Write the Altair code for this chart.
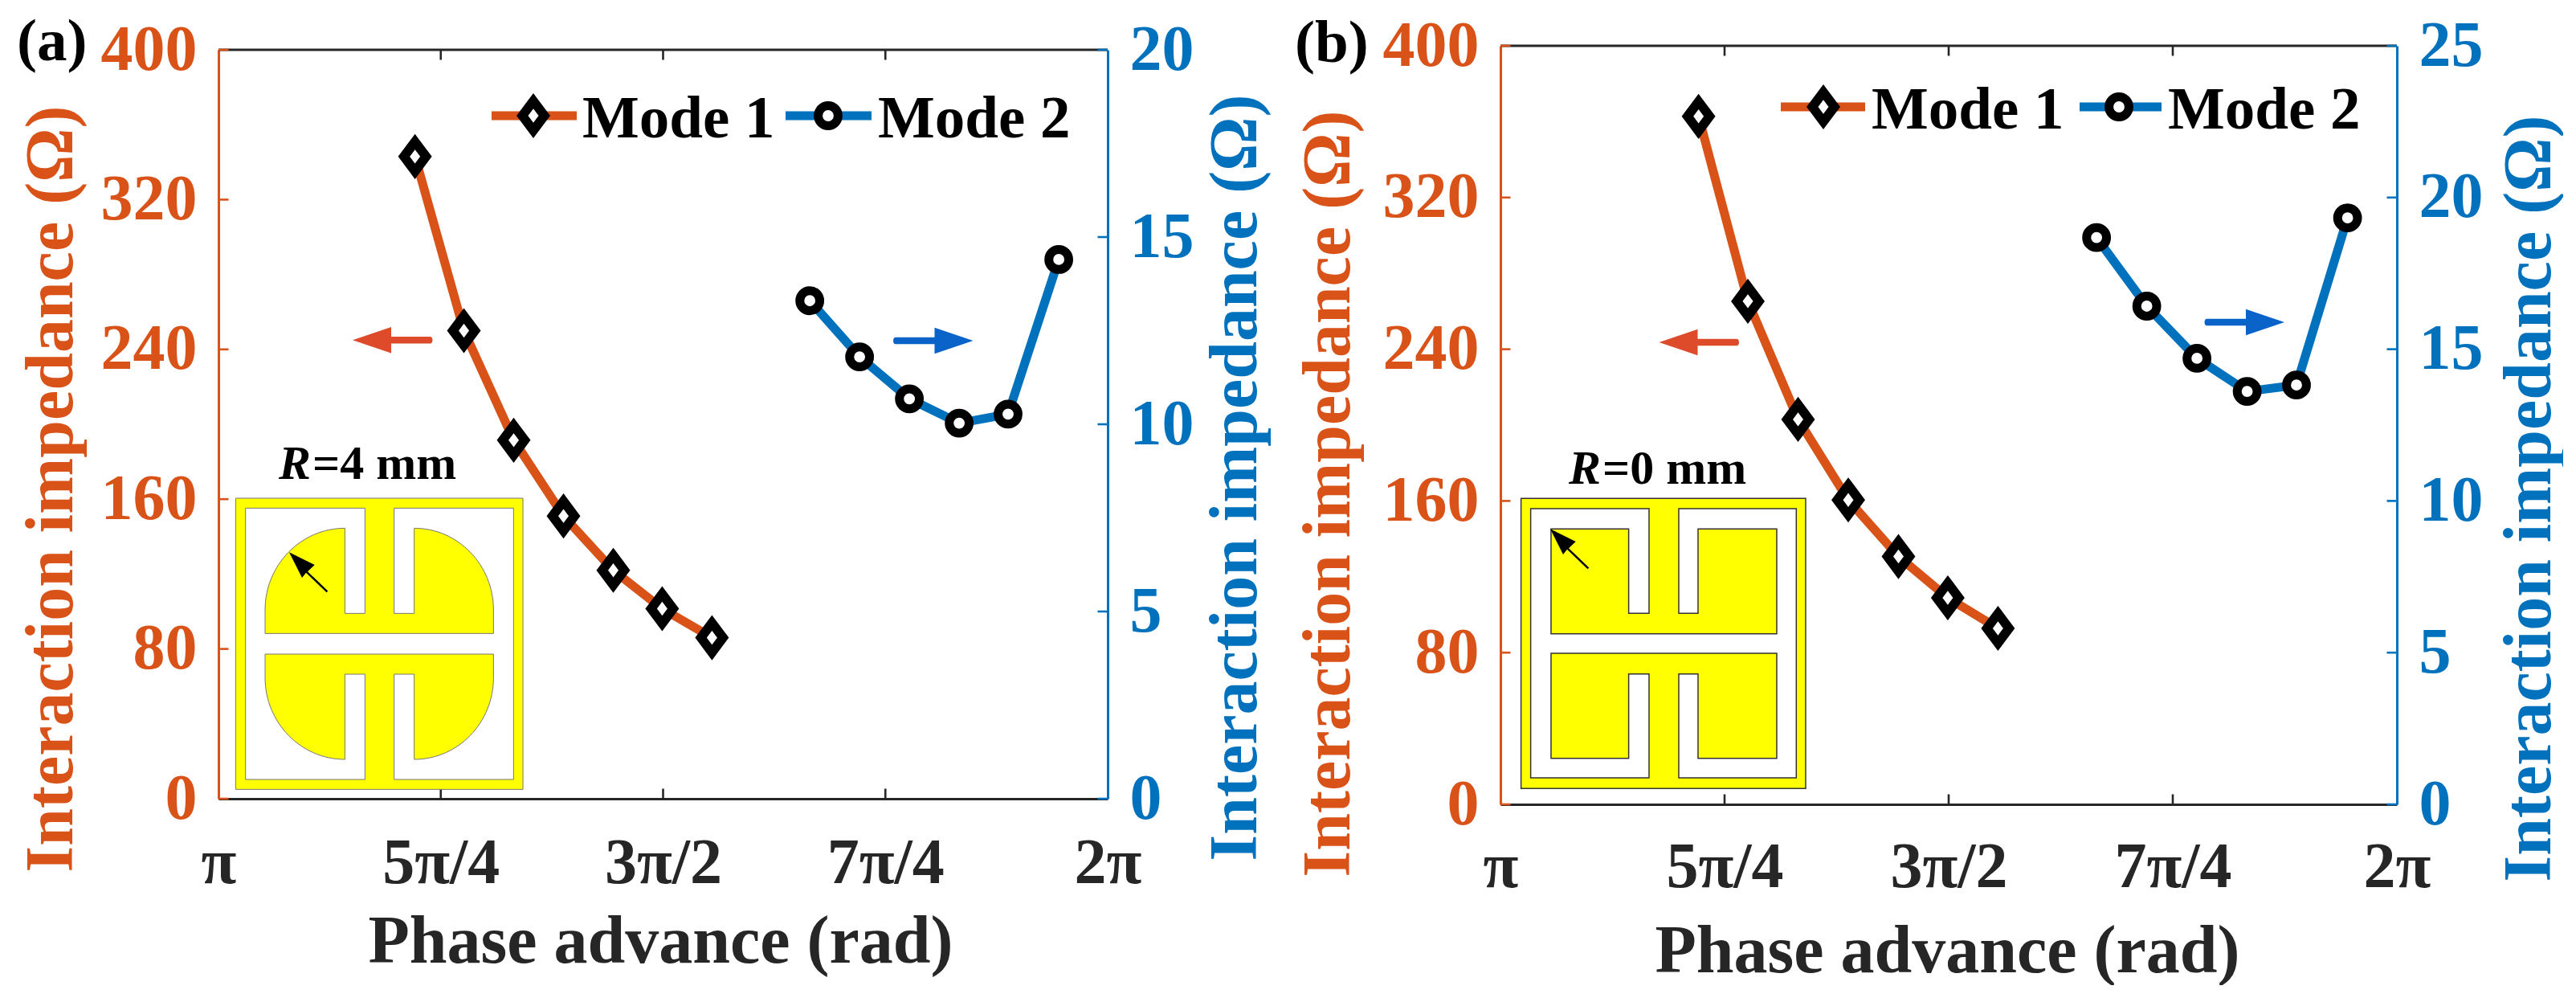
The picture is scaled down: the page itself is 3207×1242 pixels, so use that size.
import altair as alt
import pandas as pd

# ---------- values ----------
m1_x = [1.221, 1.276, 1.332, 1.388, 1.444, 1.499, 1.555]
m2_x = [1.665, 1.721, 1.777, 1.833, 1.888, 1.945]
a_m1 = [343, 250, 191.5, 151, 122, 101.5, 86]
a_m2 = [13.3, 11.8, 10.68, 10.03, 10.27, 14.4]
b_m1 = [362.8, 265.3, 203, 160.5, 130.7, 108.9, 92.8]
b_m2 = [18.68, 16.42, 14.7, 13.61, 13.82, 19.33]
left_ticks = [0, 80, 160, 240, 320, 400]
a_right_ticks = [0, 5, 10, 15, 20]
b_right_ticks = [0, 5, 10, 15, 20, 25]
x_ticks = [1, 1.25, 1.5, 1.75, 2]
x_tick_labels = ["π", "5π/4", "3π/2", "7π/4", "2π"]
title_y = "Interaction impedance (Ω)"
title_x = "Phase advance (rad)"

ORANGE = "#D95319"
BLUE = "#0072BD"
DARK = "#262626"
FONT = "Liberation Serif"
TOP = 58  # page y of panel origin


def P(x, y):
    return f"{x:.2f} {y:.2f}"


def inset_path(ox0, ox1, oy0, oy1, ix0, ix1, iy0, iy1, sl, sr, pl, pr,
               t0, t1, tslot, b0, b1, bslot, rx, ry):
    """Compound outline in crop units /3, centred on the outer rectangle."""
    cx, cy = (ox0 + ox1) / 2, (oy0 + oy1) / 2
    def q(x, y):
        return P((x - cx) / 3, (y - cy) / 3)
    k = 0.55
    inl, inr = tslot[0], tslot[1]
    d = f"M{q(ox0,oy0)}L{q(ox1,oy0)}L{q(ox1,oy1)}L{q(ox0,oy1)}Z"
    d += f"M{q(ix0,iy0)}L{q(ix0,iy1)}L{q(sl,iy1)}L{q(sl,bslot)}L{q(inl,bslot)}L{q(inl,b1)}"
    if rx:
        d += f"C{q(inl-k*rx,b1)} {q(pl,b1-ry+k*ry)} {q(pl,b1-ry)}"
    else:
        d += f"L{q(pl,b1)}"
    d += f"L{q(pl,b0)}L{q(pr,b0)}"
    if rx:
        d += f"L{q(pr,b1-ry)}C{q(pr,b1-ry+k*ry)} {q(inr+k*rx,b1)} {q(inr,b1)}"
    else:
        d += f"L{q(pr,b1)}L{q(inr,b1)}"
    d += f"L{q(inr,bslot)}L{q(sr,bslot)}L{q(sr,iy1)}L{q(ix1,iy1)}L{q(ix1,iy0)}L{q(sr,iy0)}L{q(sr,tslot[2])}L{q(inr,tslot[2])}L{q(inr,t0)}"
    if rx:
        d += f"C{q(inr+k*rx,t0)} {q(pr,t0+ry-k*ry)} {q(pr,t0+ry)}"
    else:
        d += f"L{q(pr,t0)}"
    d += f"L{q(pr,t1)}L{q(pl,t1)}"
    if rx:
        d += f"L{q(pl,t0+ry)}C{q(pl,t0+ry-k*ry)} {q(inl-k*rx,t0)} {q(inl,t0)}"
    else:
        d += f"L{q(pl,t0)}L{q(inl,t0)}"
    d += f"L{q(inl,tslot[2])}L{q(sl,tslot[2])}L{q(sl,iy0)}Z"
    return d


INSET_A = inset_path(40, 1113, 303, 1390, 77, 1078, 340, 1353, 523, 632, 150, 1003,
                     415, 808, (448, 707, 733), 885, 1278, 960, 298, 305)
INSET_B = inset_path(40, 1103, 2, 1085, 76, 1068, 40, 1045, 518, 629, 152, 995,
                     116, 507, (442, 701, 431), 580, 972, 657, 0, 0)
DIAMOND = "M0 -18.4L13.75 0L0 18.4L-13.75 0Z"
ARROW_L = "M47 -4.3L-1.5 -4.3L-1.5 -16.3L-49.5 0L-1.5 16.3L-1.5 4.3L47 4.3C51 4.3 51 -4.3 47 -4.3Z"
ARROW_R = "M-47 -4.3L1.5 -4.3L1.5 -16.3L49.5 0L1.5 16.3L1.5 4.3L-47 4.3C-51 4.3 -51 -4.3 -47 -4.3Z"
POINTER = "M0 0L31.7 15.7L23 24L48.3 48.3L46.5 50L21 25.5L16 31.7Z"
one = pd.DataFrame({"k": [0]})


def sym(path, x, y, fill, stroke=None, sw=0):
    kw = {"stroke": stroke, "strokeWidth": sw} if stroke else {"strokeWidth": 0}
    return alt.Chart(one).mark_point(shape=path, size=4, filled=True, fill=fill, opacity=1, **kw).encode(
        x=alt.value(x), y=alt.value(y))


def txt(s, x, y, size, color="black", align="left", style="normal"):
    return alt.Chart(one).mark_text(text=s, font=FONT, fontWeight="bold", fontStyle=style, fontSize=size,
                                    color=color, align=align, baseline="alphabetic").encode(
        x=alt.value(x), y=alt.value(y))


def hline(x0, x1, y, color, w):
    return alt.Chart(one).mark_rule(color=color, strokeWidth=w).encode(
        x=alt.value(x0), x2=alt.value(x1), y=alt.value(y))


def panel(px0, px1, py0, py1, m1, m2, rdomain, rticks, tag, tag_x, tag_y,
          rtitle_pos, ltitle_pos, xtitle_pos, xlabel_pad, inset, inset_c, inset_stroke, inset_sw,
          pointer_xy, rlabel, rlabel_xy, leg, arrows):
    W = px1 - px0
    H = py1 - TOP
    top = py0 - TOP
    X = lambda v: v - px0
    Y = lambda v: v - TOP
    x_scale = alt.Scale(domain=[1, 2], range=[0, W], nice=False)
    labels = "[" + ",".join(f"'{s}'" for s in x_tick_labels) + "]"
    x_axis = alt.Axis(values=x_ticks, labelExpr=labels + "[round((datum.value-1)*4)]", ticks=False, tickSize=0,
                      grid=False, domainColor=DARK, domainWidth=3, labelColor=DARK, labelFont=FONT, labelFontWeight="bold",
                      labelFontSize=80, labelBaseline="alphabetic", labelPadding=xlabel_pad, labelAngle=0,
                      labelOverlap=False, labelFlush=False, title=title_x, titleFont=FONT, titleFontWeight="bold",
                      titleFontSize=84, titleColor=DARK, titleX=X(xtitle_pos[0]), titleY=xtitle_pos[1] - py1,
                      titleAlign="center", titleBaseline="alphabetic")

    def y_axis(orient, color, values, pos):
        return alt.Axis(orient=orient, values=values, ticks=False, tickSize=0, grid=False, domainColor=color,
                        domainWidth=3, labelColor=color, labelFont=FONT, labelFontWeight="bold", labelFontSize=80,
                        labelPadding=27, labelBaseline="middle", labelOverlap=False, labelFlush=False, title=title_y,
                        titleFont=FONT, titleFontWeight="bold", titleFontSize=84, titleColor=color,
                        titleAngle=270, titleAlign="center", titleBaseline="alphabetic",
                        titleX=(pos[0] - px0) if orient == "left" else (pos[0] - px1), titleY=Y(pos[1]))

    df1 = pd.DataFrame({"x": m1_x, "y": m1})
    df2 = pd.DataFrame({"x": m2_x, "y": m2})
    dl = pd.DataFrame({"y": left_ticks, "x": [x_ticks[0]] * len(left_ticks)})
    dr = pd.DataFrame({"y": rticks, "x": [x_ticks[-1]] * len(rticks)})
    dx = pd.DataFrame({"x": x_ticks[1:-1]})
    lsc = alt.Scale(domain=[0, 400], range=[H, top], nice=False)
    rsc = alt.Scale(domain=rdomain, range=[H, top], nice=False)
    ly = alt.Y("y:Q", scale=lsc, axis=y_axis("left", ORANGE, left_ticks, ltitle_pos))
    ly_n = alt.Y("y:Q", scale=lsc, axis=None)
    ry = alt.Y("y:Q", scale=rsc, axis=y_axis("right", BLUE, rticks, rtitle_pos))
    ry_n = alt.Y("y:Q", scale=rsc, axis=None)
    xe = alt.X("x:Q", scale=x_scale, axis=x_axis)
    xe_n = alt.X("x:Q", scale=x_scale, axis=None)
    lp = leg
    layers = [
        alt.Chart(dl).mark_point(opacity=0, size=1).encode(xe, ly),
        alt.Chart(dr).mark_point(opacity=0, size=1).encode(xe_n, ry),
        alt.Chart(dx).mark_rule(color=DARK, strokeWidth=2.6).encode(xe_n, y=alt.value(H - 12.5), y2=alt.value(H)),
        alt.Chart(dx).mark_rule(color=DARK, strokeWidth=2.6).encode(xe_n, y=alt.value(top), y2=alt.value(top + 12.5)),
        hline(0, W, top, DARK, 3),
        sym(inset, X(inset_c[0]), Y(inset_c[1]), "#FFFF00", inset_stroke, inset_sw),
        sym(POINTER, X(pointer_xy[0]), Y(pointer_xy[1]), "black"),
        txt("R", X(rlabel_xy[0]), Y(rlabel_xy[1]), 60, style="italic"),
        txt(rlabel, X(rlabel_xy[0]) + 42, Y(rlabel_xy[1]), 60),
        alt.Chart(dl).mark_rule(color=ORANGE, strokeWidth=2.6).encode(ly_n, x=alt.value(0), x2=alt.value(12.5)),
        alt.Chart(df1).mark_line(color=ORANGE, strokeWidth=11).encode(xe_n, ly_n),
        alt.Chart(dr).mark_rule(color=BLUE, strokeWidth=2.6).encode(ry_n, x=alt.value(W - 12.5), x2=alt.value(W)),
        alt.Chart(df2).mark_line(color=BLUE, strokeWidth=11).encode(xe_n, ry_n),
        alt.Chart(df1).mark_point(shape=DIAMOND, size=4, filled=True, fill="white", stroke="black", strokeWidth=11.6, opacity=1).encode(xe_n, ly_n),
        alt.Chart(df2).mark_point(shape="circle", size=616, filled=True, fill="white", stroke="black", strokeWidth=11, opacity=1).encode(xe_n, ry_n),
        hline(X(lp["l1"][0]), X(lp["l1"][1]), Y(lp["y"]), ORANGE, 11),
        sym(DIAMOND, X(lp["m1"]), Y(lp["y"]), "white", "black", 11.6),
        txt("Mode 1", X(lp["t1"]), Y(lp["y"]) + 27, 75),
        hline(X(lp["l2"][0]), X(lp["l2"][1]), Y(lp["y"]), BLUE, 11),
        alt.Chart(one).mark_point(shape="circle", size=616, filled=True, fill="white", stroke="black", strokeWidth=11, opacity=1).encode(
            x=alt.value(X(lp["m2"])), y=alt.value(Y(lp["y"]))),
        txt("Mode 2", X(lp["t2"]), Y(lp["y"]) + 27, 75),
        sym(ARROW_L, X(arrows[0][0]), Y(arrows[0][1]), "#DD4B2B"),
        sym(ARROW_R, X(arrows[1][0]), Y(arrows[1][1]), "#0A63C8"),
        txt(tag, X(tag_x), Y(tag_y), 75),
    ]
    return alt.layer(*layers).resolve_scale(y="independent").resolve_axis(x="independent", y="independent").properties(width=W, height=H)


a = panel(272, 1379, 63, 995, a_m1, a_m2, [0, 20], a_right_ticks, "(a)", 21, 76,
          (1563, 595), (89, 609), (822, 1198), 104, INSET_A, (472.2, 802.2), "#777777", 1,
          (360, 688.3), "=4 mm", (347, 597),
          dict(y=145, l1=(612, 718), m1=664, t1=725, l2=(978, 1085), m2=1031, t2=1093),
          [(488.5, 424.3), (1162, 425)])
b = panel(1868, 2984, 58, 1002, b_m1, b_m2, [0, 25], b_right_ticks, "(b)", 1612, 78,
          (3174, 621), (1679, 615), (2424, 1210), 102, INSET_B, (2070.8, 801.8), "#333333", 1.5,
          (1930, 659.3), "=0 mm", (1953, 603),
          dict(y=134, l1=(2217, 2322), m1=2270, t1=2330, l2=(2589, 2691), m2=2638, t2=2699),
          [(2115, 427), (2794.5, 402)])

chart = alt.hconcat(a, b, spacing=489, bounds="flush").properties(
    padding={"left": 13, "top": 7, "right": 0, "bottom": 0}, background="white"
).configure_view(stroke=None)

chart.save("out.html", embed_options={"renderer": "svg", "actions": False})
